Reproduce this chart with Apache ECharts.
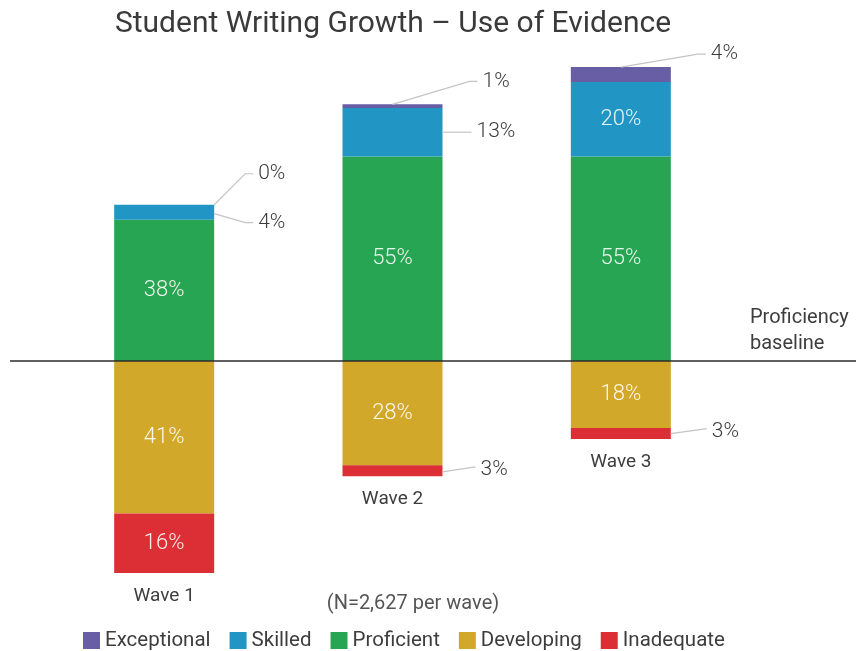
<!DOCTYPE html>
<html>
<head>
<meta charset="utf-8">
<script src="https://cdn.jsdelivr.net/npm/echarts@6/dist/echarts.min.js"></script>
<style>
  html, body { margin: 0; padding: 0; background: #fff; }
  #chart { width: 856px; height: 651px; }
</style>
</head>
<body>
<div id="chart"></div>
<script>
// Share of students at each rubric level, per wave (percent)
const waves = ['Wave 1', 'Wave 2', 'Wave 3'];
const exceptional = [0, 1, 4];
const skilled = [4, 13, 20];
const proficient = [38, 55, 55];
const developing = [41, 28, 18];
const inadequate = [16, 3, 3];

const titleText = 'Student Writing Growth \u2013 Use of Evidence';
const sampleNote = '(N=2,627 per wave)';
const baselineLines = ['Proficiency', 'baseline'];

const FONT = 'Roboto, "Noto Sans", sans-serif';
const BAR_W = 100;
const LABEL_INSIDE = 'rgba(255,255,255,0.9)';
const TEXT_DARK = '#3d3d3d';
const LEADER = '#c4c4c4';

// Levels above the baseline are stacked upward, levels below it downward.
const levels = [
  { name: 'Exceptional', values: exceptional, sign: 1, color: '#675ea6', inside: [false, false, false] },
  { name: 'Skilled', values: skilled, sign: 1, color: '#2196c4', inside: [false, false, true] },
  { name: 'Proficient', values: proficient, sign: 1, color: '#27a552', inside: [true, true, true] },
  { name: 'Developing', values: developing, sign: -1, color: '#d2a82a', inside: [true, true, true] },
  { name: 'Inadequate', values: inadequate, sign: -1, color: '#dc2f35', inside: [true, false, false] }
];
// stacking order: proficient then skilled then exceptional upward; developing then inadequate downward
const stackOrder = ['Proficient', 'Skilled', 'Exceptional', 'Developing', 'Inadequate'];

function level(name) { return levels.find(l => l.name === name); }

// segment extents (start nearest the baseline, end farthest away)
function segment(name, i) {
  const up = ['Proficient', 'Skilled', 'Exceptional'];
  const down = ['Developing', 'Inadequate'];
  const chain = up.includes(name) ? up : down;
  const sign = up.includes(name) ? 1 : -1;
  let start = 0;
  for (const n of chain) {
    if (n === name) break;
    start += level(n).values[i];
  }
  return [sign * start, sign * (start + level(name).values[i])];
}

// Leader-line callouts for the segments too thin to hold their label.
// ax/ay: anchor on the segment (fraction of bar width, fraction from the outer end),
// ex/ey: elbow offset from the bar's right edge / anchor y, tail: horizontal run.
const callouts = [
  { level: 'Exceptional', wave: 0, ax: 1,   ay: 0,   ex: 31, ey: -31, tail: 8, ty: 0 },
  { level: 'Skilled',     wave: 0, ax: 1,   ay: 0.6, ex: 31, ey: 9,   tail: 8, ty: 0 },
  { level: 'Exceptional', wave: 1, ax: 0.5, ay: 0,   ex: 27, ey: -23, tail: 8, ty: 0 },
  { level: 'Skilled',     wave: 1, ax: 1,   ay: 0.5, ex: 29, ey: 0,   tail: 0, ty: 0 },
  { level: 'Inadequate',  wave: 1, ax: 1,   ay: 0.4, ex: 33, ey: -5,  tail: 0, ty: 3 },
  { level: 'Exceptional', wave: 2, ax: 0.5, ay: 0,   ex: 27, ey: -13, tail: 8, ty: 0 },
  { level: 'Inadequate',  wave: 2, ax: 1,   ay: 0.5, ex: 36, ey: -5,  tail: 0, ty: 3 }
];

const barSeries = stackOrder.map(name => {
  const l = level(name);
  return {
    name: l.name,
    type: 'bar',
    stack: 'levels',
    barWidth: BAR_W,
    itemStyle: { color: l.color },
    data: l.values.map((v, i) => ({
      value: l.sign * v,
      label: {
        show: l.inside[i],
        position: 'inside',
        formatter: v + '%',
        color: LABEL_INSIDE,
        fontFamily: FONT,
        fontSize: 22,
        fontWeight: 300
      }
    }))
  };
});

const calloutSeries = {
  type: 'custom',
  name: 'callouts',
  silent: true,
  clip: false,
  z: 5,
  data: callouts.map((c, k) => {
    const seg = segment(c.level, c.wave);
    return [c.wave, seg[0], seg[1], k];
  }),
  renderItem(params, api) {
    const c = callouts[api.value(3)];
    const wave = api.value(0);
    const inner = api.coord([wave, api.value(1)]);
    const outer = api.coord([wave, api.value(2)]);
    const left = inner[0] - BAR_W / 2;
    const right = inner[0] + BAR_W / 2;
    const ax = left + c.ax * BAR_W;
    const ay = outer[1] + c.ay * (inner[1] - outer[1]);
    const exX = right + c.ex;
    const exY = ay + c.ey;
    const endX = exX + c.tail;
    const lv = level(c.level);
    return {
      type: 'group',
      children: [
        {
          type: 'polyline',
          shape: { points: [[ax, ay], [exX, exY], [endX, exY]] },
          style: { stroke: LEADER, lineWidth: 1.2, fill: null }
        },
        {
          type: 'text',
          x: endX + 5,
          y: exY + c.ty,
          style: {
            text: lv.values[wave] + '%',
            fill: TEXT_DARK,
            font: '300 21px ' + FONT,
            textAlign: 'left',
            textVerticalAlign: 'middle'
          }
        }
      ]
    };
  }
};

// Wave names sit just under the lowest segment of each bar
const waveLabelSeries = {
  type: 'custom',
  name: 'waveLabels',
  silent: true,
  clip: false,
  data: waves.map((w, i) => [i, -(developing[i] + inadequate[i])]),
  renderItem(params, api) {
    const p = api.coord([api.value(0), api.value(1)]);
    return {
      type: 'text',
      x: p[0],
      y: p[1] + 23,
      style: {
        text: waves[api.value(0)],
        fill: TEXT_DARK,
        font: '19px ' + FONT,
        textAlign: 'center',
        textVerticalAlign: 'middle'
      }
    };
  }
};

// Proficiency baseline across the full width at value 0
const baselineSeries = {
  type: 'custom',
  name: 'baseline',
  silent: true,
  clip: false,
  z: 10,
  data: [[0, 0]],
  renderItem(params, api) {
    const y = Math.round(api.coord([0, 0])[1]);
    return {
      type: 'group',
      children: [
        {
          type: 'line',
          shape: { x1: 10, y1: y, x2: api.getWidth(), y2: y },
          style: { stroke: '#2b2b2b', lineWidth: 1.6 }
        },
        {
          type: 'text',
          x: 750,
          y: y - 43,
          style: { text: baselineLines[0], fill: TEXT_DARK, font: '20px ' + FONT, textVerticalAlign: 'middle' }
        },
        {
          type: 'text',
          x: 750,
          y: y - 17,
          style: { text: baselineLines[1], fill: TEXT_DARK, font: '20px ' + FONT, textVerticalAlign: 'middle' }
        }
      ]
    };
  }
};

const chart = echarts.init(document.getElementById('chart'), null, { renderer: 'canvas' });
chart.setOption({
  animation: false,
  backgroundColor: '#ffffff',
  grid: { left: 50, right: 121, top: 26.2, height: 595.2 },
  xAxis: {
    type: 'category',
    data: waves,
    show: false
  },
  yAxis: {
    type: 'value',
    min: -70,
    max: 90,
    show: false,
    splitLine: { show: false }
  },
  legend: {
    data: levels.map(l => l.name),
    left: 83,
    top: 630,
    padding: 0,
    icon: 'rect',
    itemWidth: 17,
    itemHeight: 17,
    itemGap: 19,
    textStyle: { fontFamily: FONT, fontSize: 20.5, color: TEXT_DARK }
  },
  graphic: [
    {
      type: 'text',
      x: 393,
      y: 24,
      style: {
        text: titleText,
        fill: '#3a3a3a',
        font: '400 30px ' + FONT,
        textAlign: 'center',
        textVerticalAlign: 'middle'
      }
    },
    {
      type: 'text',
      x: 413,
      y: 604,
      style: {
        text: sampleNote,
        fill: '#555',
        font: '20px ' + FONT,
        textAlign: 'center',
        textVerticalAlign: 'middle'
      }
    }
  ],
  series: [...barSeries, calloutSeries, waveLabelSeries, baselineSeries]
});
</script>
</body>
</html>
